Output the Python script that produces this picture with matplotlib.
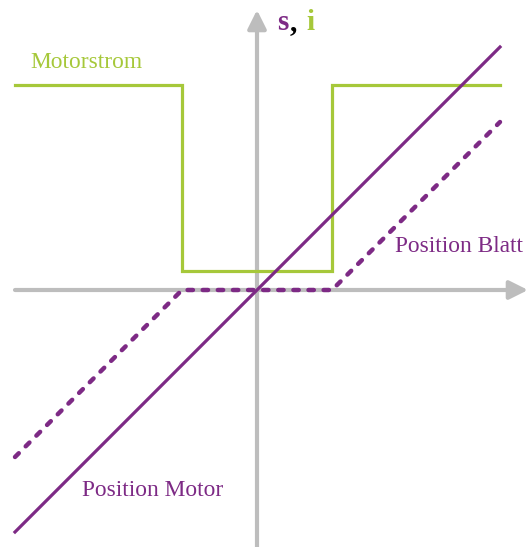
import matplotlib
matplotlib.use("Agg")
from matplotlib import pyplot

# data in pixel-like units, origin where the axes cross
motor_x = [-242, 243]
motor_y = [-242, 243]
blatt_x = [-242, -75, 75, 243]
blatt_y = [-167, 0, 0, 168]
strom_x = [-242, -75, -75, 75, 75, 243]
strom_y = [205, 205, 19, 19, 205, 205]

purple = "#7d2a85"
green = "#a6c83a"
gray = "#bdbdbd"

canvas = pyplot.figure(figsize=(5.28, 5.47), dpi=100)
axes = canvas.add_axes([0, 0, 1, 1])
axes.set_xlim(-257, 271)
axes.set_ylim(-257, 290)
axes.axis("off")

# coordinate axes with arrows
axes.annotate("", xy=(271, 0), xytext=(-242, 0),
              arrowprops=dict(arrowstyle="-|>", color=gray, lw=3, mutation_scale=28,
                              shrinkA=0, shrinkB=0), zorder=1)
axes.annotate("", xy=(0, 280), xytext=(0, -257),
              arrowprops=dict(arrowstyle="-|>", color=gray, lw=3, mutation_scale=28,
                              shrinkA=0, shrinkB=0), zorder=1)

axes.plot(strom_x, strom_y, color=green, lw=2.3, solid_joinstyle="miter", zorder=4)
axes.plot(motor_x, motor_y, color=purple, lw=2.3, zorder=5)
axes.plot(blatt_x, blatt_y, color=purple, lw=3.2, linestyle=(0, (1.2, 2.2)),
          dash_capstyle="round", zorder=5)

serif = ["Liberation Serif", "DejaVu Serif"]
axes.text(-227, 228, "Motorstrom", color=green, fontsize=16.8, family=serif, va="center")
axes.text(138, 43, "Position Blatt", color=purple, fontsize=16.8, family=serif, va="center")
axes.text(-175, -201, "Position Motor", color=purple, fontsize=16.8, family=serif, va="center")

axes.text(20, 267, "s", color=purple, fontsize=21, family=serif, weight="bold", va="center")
axes.text(33, 267, ",", color="black", fontsize=21, family=serif, weight="bold", va="center")
axes.text(49, 267, "i", color=green, fontsize=21, family=serif, weight="bold", va="center")

pyplot.savefig("out.png", dpi=100)
